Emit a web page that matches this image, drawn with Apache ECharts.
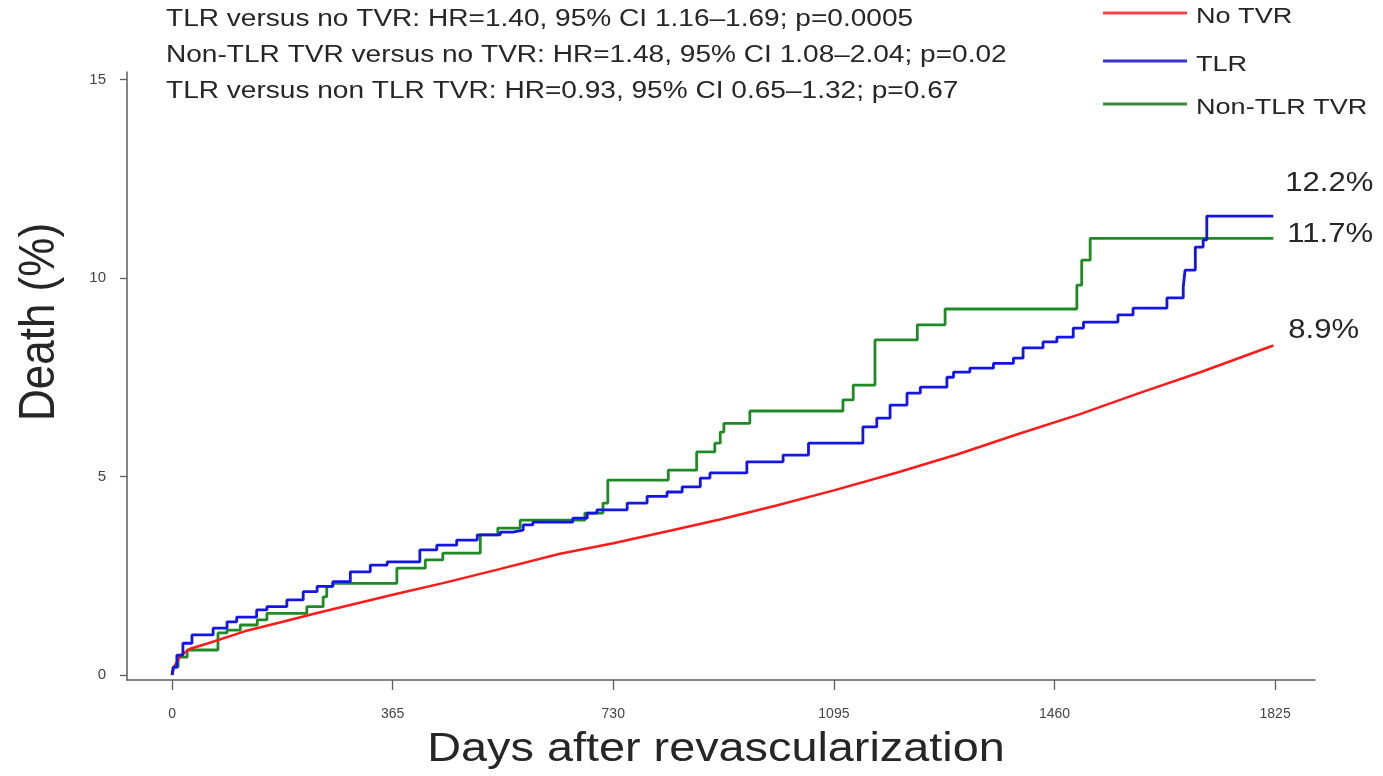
<!DOCTYPE html>
<html>
<head>
<meta charset="utf-8">
<title>Death after revascularization</title>
<script src="https://cdn.jsdelivr.net/npm/echarts@6/dist/echarts.min.js"></script>
<style>
  html, body { margin: 0; padding: 0; background: #ffffff; }
  #chart { width: 1383px; height: 776px; }
</style>
</head>
<body>
<div id="chart"></div>
<script>
// Cumulative death (%) by days after revascularization, three groups.
const seriesNames = ['No TVR', 'TLR', 'Non-TLR TVR'];
const seriesColors = ['#ff1a1a', '#1414e6', '#1f8a24'];
const legendColors = ['#f0454a', '#3535d0', '#3a8a3e'];

// [day, cumulative %]
const noTvr = [
  [0, 0], [3, 0.2], [15, 0.5], [30, 0.66], [60, 0.8], [120, 1.1], [180, 1.33],
  [240, 1.56], [300, 1.78], [365, 2.02], [450, 2.32], [540, 2.66], [640, 3.05],
  [730, 3.32], [820, 3.62], [910, 3.93], [1000, 4.27], [1095, 4.65], [1200, 5.1],
  [1300, 5.56], [1400, 6.07], [1500, 6.56], [1600, 7.1], [1700, 7.62], [1822, 8.3]
];

const tlr = [
  [0, 0], [2, 0.2], [8, 0.5], [18, 0.8], [33, 1.01], [68, 1.18], [91, 1.34],
  [107, 1.46], [140, 1.64], [157, 1.72], [190, 1.89], [217, 2.1], [240, 2.23],
  [266, 2.35], [295, 2.6], [328, 2.77], [356, 2.85], [410, 3.15], [438, 3.27],
  [471, 3.4], [505, 3.53], [543, 3.6], [564, 3.65], [581, 3.78], [597, 3.85],
  [663, 3.95], [687, 4.08], [703, 4.16], [753, 4.33], [786, 4.5], [819, 4.61],
  [844, 4.74], [874, 4.96], [890, 5.09], [951, 5.37], [1011, 5.54], [1053, 5.84],
  [1143, 6.25], [1166, 6.47], [1188, 6.8], [1216, 7.1], [1238, 7.25], [1282, 7.5],
  [1293, 7.63], [1320, 7.73], [1359, 7.85], [1392, 7.98], [1408, 8.24], [1441, 8.39],
  [1464, 8.51], [1491, 8.74], [1508, 8.89], [1565, 9.07], [1590, 9.24], [1646, 9.5],
  [1673, 9.77], [1676, 10.2], [1693, 10.78], [1706, 10.96], [1712, 11.56], [1822, 11.56]
];

const nonTlrTvr = [
  [0, 0], [3, 0.2], [10, 0.45], [25, 0.63], [76, 1.06], [91, 1.13], [113, 1.26],
  [141, 1.39], [157, 1.55], [223, 1.72], [250, 1.97], [256, 2.23], [266, 2.31],
  [372, 2.69], [419, 2.9], [448, 3.07], [510, 3.53], [539, 3.7], [576, 3.9],
  [683, 4.08], [713, 4.33], [721, 4.91], [821, 5.16], [868, 5.62], [898, 5.84],
  [907, 6.12], [913, 6.34], [956, 6.65], [1110, 6.93], [1127, 7.3], [1163, 8.44],
  [1233, 8.82], [1279, 9.22], [1497, 9.82], [1505, 10.45], [1519, 11.0], [1822, 11.0]
];

// Five-year rates written at the end of each curve
const endRates = ['8.9%', '12.2%', '11.7%'];

const xTicks = [0, 365, 730, 1095, 1460, 1825];
const yTicks = [0, 5, 10, 15];

const hazardLines = [
  'TLR versus no TVR: HR=1.40, 95% CI 1.16\u20131.69; p=0.0005',
  'Non-TLR TVR versus no TVR: HR=1.48, 95% CI 1.08\u20132.04; p=0.02',
  'TLR versus non TLR TVR: HR=0.93, 95% CI 0.65\u20131.32; p=0.67'
];

const xTitle = 'Days after revascularization';
const yTitle = 'Death (%)';

const FONT = 'Liberation Sans, Arial, Helvetica, sans-serif';
const STRETCH = 1.2;   // type in this figure is set slightly wide

const chart = echarts.init(document.getElementById('chart'), null, { renderer: 'canvas' });

const curveData = [noTvr, tlr, nonTlrTvr];
const stepMode = [false, 'end', 'end'];
const lineWidths = [2.5, 2.8, 2.8];

const series = curveData.map((d, i) => ({
  name: seriesNames[i],
  type: 'line',
  data: d,
  step: stepMode[i],
  showSymbol: false,
  symbol: 'none',
  z: i === 0 ? 3 : (i === 1 ? 4 : 2),
  lineStyle: { color: seriesColors[i], width: lineWidths[i] },
  itemStyle: { color: legendColors[i] },
  emphasis: { disabled: true },
  animation: false
}));

// Wide text helper: left-anchored (or centred) text with horizontal stretch
function wideText(text, x, y, size, opts) {
  opts = opts || {};
  return {
    type: 'text',
    x: x,
    y: y,
    scaleX: opts.scaleX || STRETCH,
    scaleY: opts.scaleY || 1,
    rotation: opts.rotation || 0,
    z: 100,
    silent: true,
    style: {
      text: text,
      fontFamily: FONT,
      fontSize: size,
      fill: opts.fill || '#262626',
      align: opts.align || 'left',
      verticalAlign: 'middle'
    }
  };
}

// Legend drawn as short line swatches with labels
const legendRowY = [13, 61, 104];
const legendGraphics = [];
seriesNames.forEach((name, i) => {
  legendGraphics.push({
    type: 'line',
    silent: true,
    z: 100,
    shape: { x1: 1103, y1: legendRowY[i], x2: 1187, y2: legendRowY[i] },
    style: { stroke: legendColors[i], lineWidth: 3 }
  });
  legendGraphics.push(wideText(name, 1196, legendRowY[i] + 4, 22, { scaleX: 1.23 }));
});

const hazardGraphics = hazardLines.map((t, i) => wideText(t, 166, 20 + i * 36, 23, { scaleX: 1.22 }));

const titleGraphics = [
  wideText(xTitle, 716, 750, 40, { align: 'center', scaleX: 1.17 }),
  wideText(yTitle, 40, 322, 44, { align: 'center', rotation: Math.PI / 2, scaleX: 1, scaleY: 1.15 })
];

const option = {
  backgroundColor: '#ffffff',
  animation: false,
  grid: { left: 127, right: 68, top: 72, bottom: 96, containLabel: false, outerBoundsMode: 'none' },
  xAxis: {
    type: 'value',
    min: -74.5,
    max: 1891,
    splitLine: { show: false },
    axisLine: { show: true, onZero: false, lineStyle: { color: '#5e5e5e', width: 1.5 } },
    axisTick: { show: true, customValues: xTicks, length: 10, lineStyle: { color: '#5e5e5e', width: 1.3 } },
    axisLabel: {
      customValues: xTicks,
      formatter: v => String(v),
      margin: 27,
      fontFamily: FONT,
      fontSize: 14,
      color: '#444444'
    }
  },
  yAxis: {
    type: 'value',
    min: -0.126,
    max: 15.19,
    splitLine: { show: false },
    axisLine: { show: true, onZero: false, lineStyle: { color: '#5e5e5e', width: 1.5 } },
    axisTick: { show: true, customValues: yTicks, length: 7, lineStyle: { color: '#5e5e5e', width: 1.3 } },
    axisLabel: {
      customValues: yTicks,
      formatter: v => String(v),
      margin: 21,
      fontFamily: FONT,
      fontSize: 15,
      color: '#444444'
    }
  },
  graphic: [].concat(hazardGraphics, legendGraphics, titleGraphics),
  series: series
};

chart.setOption(option);

// Rate labels placed beside the last point of each curve
const labelShift = [[15, -15], [12, -33], [14, -4]];
const rateGraphics = curveData.map((d, i) => {
  const end = chart.convertToPixel({ gridIndex: 0 }, d[d.length - 1]);
  return wideText(endRates[i], end[0] + labelShift[i][0], end[1] + labelShift[i][1], 27, { scaleX: 1.15 });
});
chart.setOption({ graphic: [].concat(hazardGraphics, legendGraphics, titleGraphics, rateGraphics) });
</script>
</body>
</html>
